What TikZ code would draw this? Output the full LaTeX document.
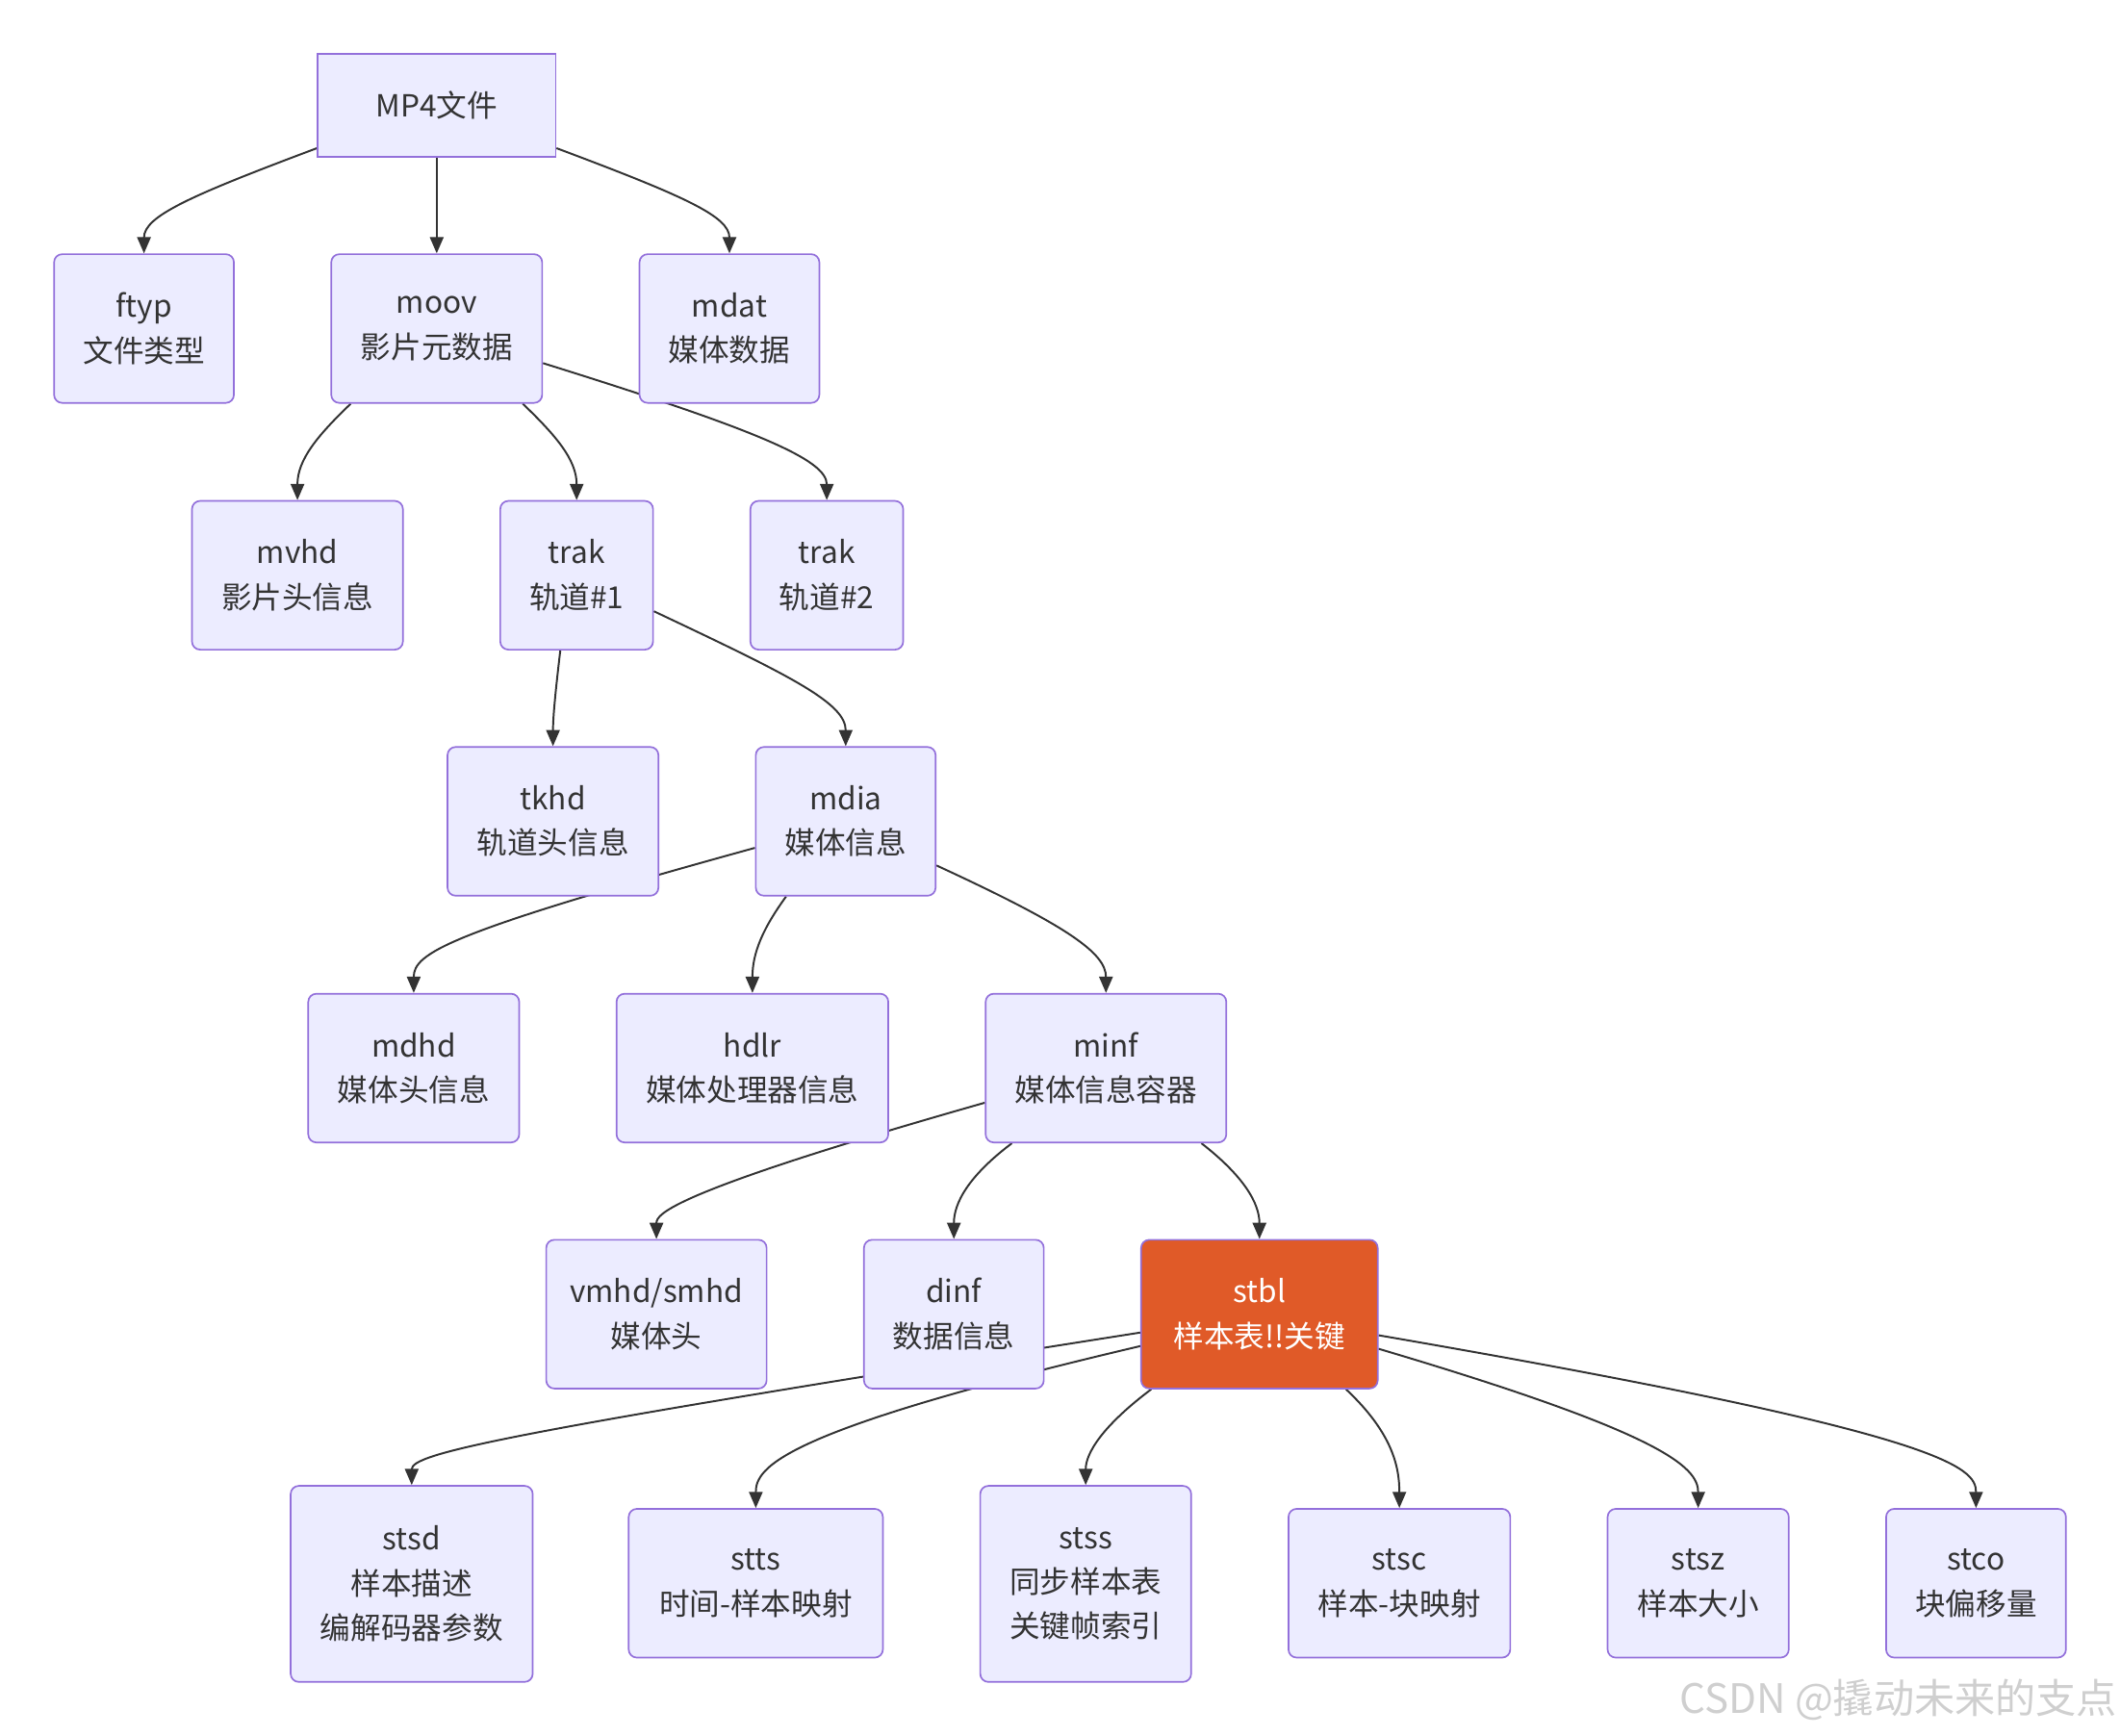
\documentclass[tikz,border=0pt]{standalone}
\usepackage{fontspec}
\setmainfont{Noto Sans CJK SC}
\usetikzlibrary{arrows.meta,backgrounds}
\definecolor{nodefill}{HTML}{ECECFF}
\definecolor{nodeline}{HTML}{9370DB}
\definecolor{edgecol}{HTML}{333333}
\definecolor{hlfill}{HTML}{E05A28}
\definecolor{wmcol}{HTML}{CFCFCF}
\tikzset{
  box/.style={draw=nodeline, fill=nodefill, line width=1.2pt, rounded corners=6pt,
    align=center, inner sep=0pt, text=edgecol, font=\fontsize{22.5}{33}\selectfont},
  sqbox/.style={box, rounded corners=0pt},
  hlbox/.style={box, fill=hlfill, text=white},
  edge/.style={draw=edgecol, line width=1.4pt, -{Triangle[length=12pt,width=10pt]}},
}
\begin{document}
\begin{tikzpicture}[x=1pt,y=-1pt]
\useasboundingbox (0,0) rectangle (1568,1284);
% row 1
\node[sqbox, minimum width=176pt, minimum height=76pt] (mp4) at (323,78) {MP4文件};
% row 2
\node[box, minimum width=133pt, minimum height=110pt] (ftyp) at (106.5,243) {ftyp\\文件类型};
\node[box, minimum width=156pt, minimum height=110pt] (moov) at (323,243) {moov\\影片元数据};
\node[box, minimum width=133pt, minimum height=110pt] (mdat) at (539.5,243) {mdat\\媒体数据};
% row 3
\node[box, minimum width=156pt, minimum height=110pt] (mvhd) at (220,425.5) {mvhd\\影片头信息};
\node[box, minimum width=113pt, minimum height=110pt] (trak1) at (426.5,425.5) {trak\\轨道\#1};
\node[box, minimum width=113pt, minimum height=110pt] (trak2) at (611.5,425.5) {trak\\轨道\#2};
% row 4
\node[box, minimum width=156pt, minimum height=110pt] (tkhd) at (409,607.5) {tkhd\\轨道头信息};
\node[box, minimum width=133pt, minimum height=110pt] (mdia) at (625.5,607.5) {mdia\\媒体信息};
% row 5
\node[box, minimum width=156pt, minimum height=110pt] (mdhd) at (306,790) {mdhd\\媒体头信息};
\node[box, minimum width=201pt, minimum height=110pt] (hdlr) at (556.5,790) {hdlr\\媒体处理器信息};
\node[box, minimum width=178pt, minimum height=110pt] (minf) at (818,790) {minf\\媒体信息容器};
% row 6
\node[box, minimum width=163pt, minimum height=110pt] (vmhd) at (485.5,972) {vmhd/smhd\\媒体头};
\node[box, minimum width=133pt, minimum height=110pt] (dinf) at (705.5,972) {dinf\\数据信息};
\node[hlbox, minimum width=175pt, minimum height=110pt] (stbl) at (931.5,972) {stbl\\样本表!!关键};
% row 7
\node[box, minimum width=179pt, minimum height=145pt] (stsd) at (304.5,1171.5) {stsd\\样本描述\\编解码器参数};
\node[box, minimum width=188pt, minimum height=110pt] (stts) at (559,1171) {stts\\时间-样本映射};
\node[box, minimum width=156pt, minimum height=145pt] (stss) at (803,1171.5) {stss\\同步样本表\\关键帧索引};
\node[box, minimum width=164pt, minimum height=110pt] (stsc) at (1035,1171) {stsc\\样本-块映射};
\node[box, minimum width=134pt, minimum height=110pt] (stsz) at (1256,1171) {stsz\\样本大小};
\node[box, minimum width=133pt, minimum height=110pt] (stco) at (1461.5,1171) {stco\\块偏移量};
% watermark
\node[anchor=east, inner sep=0pt, text=wmcol, font=\fontsize{30}{30}\selectfont] (wm) at (1566,1257) {CSDN @撬动未来的支点};
% edges
\begin{scope}[on background layer]
\fill[white] (0,0) rectangle (1568,1284);
\draw[edge] ([yshift=7pt]mp4.south west) .. controls (140,145) and (106.5,160) .. (ftyp.north);
\draw[edge] (mp4.south) -- (moov.north);
\draw[edge] ([yshift=7pt]mp4.south east) .. controls (506,145) and (539.5,160) .. (mdat.north);
\draw[edge] ([xshift=15pt]moov.south west) .. controls (235,322) and (220,340) .. (mvhd.north);
\draw[edge] ([xshift=-15pt]moov.south east) .. controls (411,322) and (426.5,340) .. (trak1.north);
\draw[edge] ([yshift=30pt]moov.south east) .. controls (560,318) and (611.5,340) .. (trak2.north);
\draw[edge] ([xshift=45pt]trak1.south west) .. controls (411,510) and (409,530) .. (tkhd.north);
\draw[edge] ([yshift=29pt]trak1.south east) .. controls (585,500) and (625.5,520) .. (mdia.north);
\draw[edge] ([yshift=36pt]mdia.south west) .. controls (330,690) and (306,705) .. (mdhd.north);
\draw[edge] ([xshift=23pt]mdia.south west) .. controls (564,687) and (556.5,705) .. (hdlr.north);
\draw[edge] ([yshift=23pt]mdia.south east) .. controls (790,685) and (818,705) .. (minf.north);
\draw[edge] ([yshift=30pt]minf.south west) .. controls (495,882) and (485.5,898) .. (vmhd.north);
\draw[edge] ([xshift=20pt]minf.south west) .. controls (716,870) and (705.5,890) .. (dinf.north);
\draw[edge] ([xshift=-19pt]minf.south east) .. controls (920,870) and (931.5,890) .. (stbl.north);
\draw[edge] ([yshift=42pt]stbl.south west) .. controls (370,1060) and (304.5,1075) .. (stsd.north);
\draw[edge] ([yshift=32pt]stbl.south west) .. controls (578,1058) and (559,1085) .. (stts.north);
\draw[edge] ([xshift=8pt]stbl.south west) .. controls (815,1055) and (803,1075) .. (stss.north);
\draw[edge] ([xshift=-24pt]stbl.south east) .. controls (1030,1060) and (1035,1085) .. (stsc.north);
\draw[edge] ([yshift=30pt]stbl.south east) .. controls (1230,1060) and (1256,1085) .. (stsz.north);
\draw[edge] ([yshift=40pt]stbl.south east) .. controls (1440,1060) and (1461.5,1085) .. (stco.north);
\end{scope}
\end{tikzpicture}
\end{document}
